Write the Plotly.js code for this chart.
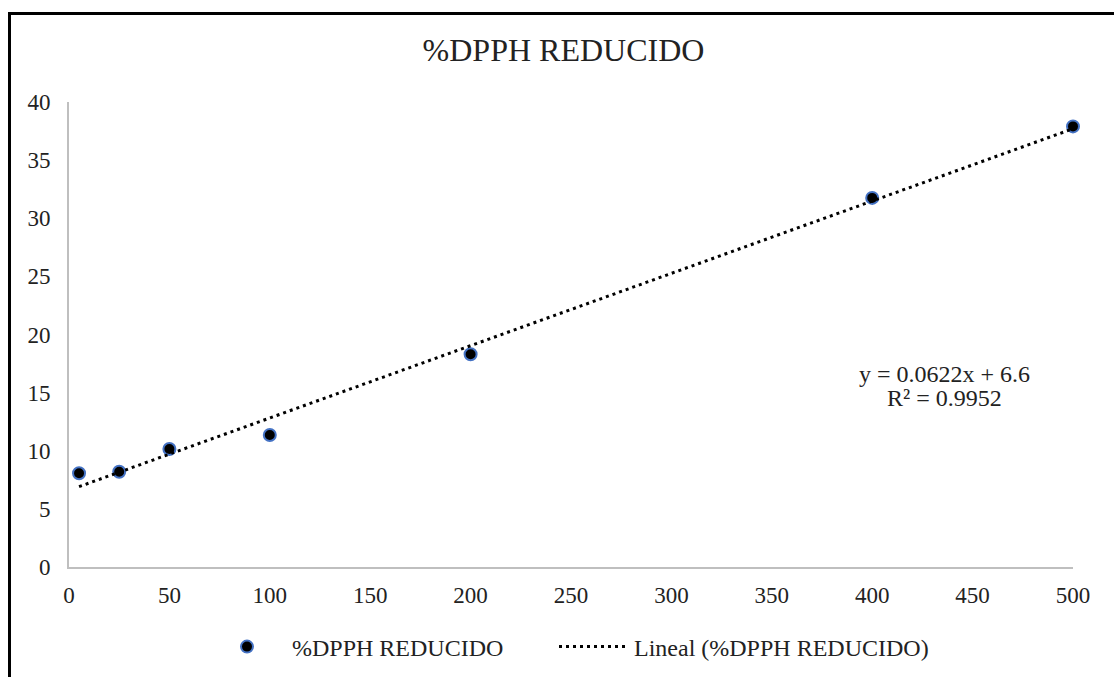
<!DOCTYPE html>
<html>
<head>
<meta charset="utf-8">
<script src="https://cdn.plot.ly/plotly-3.0.1.min.js"></script>
<style>
  html, body { margin: 0; padding: 0; background: #fff; }
  #wrap { position: relative; width: 1114px; height: 677px; overflow: hidden; }
  #chart { position: absolute; left: 0; top: 0; width: 1114px; height: 677px; }
  #frame { position: absolute; left: 8px; top: 12px; width: 1200px; height: 800px;
           border-top: 3px solid #000; border-left: 3px solid #000; pointer-events: none; }
</style>
</head>
<body>
<div id="wrap">
  <div id="chart"></div>
  <div id="frame"></div>
</div>
<script>
// Data
const concentrations = [5, 25, 50, 100, 200, 400, 500];
const dpphReduced   = [8.06, 8.2, 10.15, 11.35, 18.3, 31.75, 37.9];
const seriesName = "%DPPH REDUCIDO";
const trendName  = "Lineal (%DPPH REDUCIDO)";
const trendSlope = 0.0622;
const trendIntercept = 6.6;
const equationText = "y = 0.0622x + 6.6";
const r2Text = "R² = 0.9952";

const xMin = Math.min(...concentrations);
const xMax = Math.max(...concentrations);
const trendX = [xMin, xMax];
const trendY = trendX.map(v => trendSlope * v + trendIntercept);

const serif = "'Liberation Serif', 'Times New Roman', Times, serif";
const txt = "#222222";

const traces = [
  {
    type: "scatter", mode: "markers", name: seriesName, legend: "legend",
    x: concentrations, y: dpphReduced, cliponaxis: false,
    marker: { color: "#000000", size: 12, line: { color: "#4472C4", width: 2 } }
  },
  {
    type: "scatter", mode: "lines", name: trendName, legend: "legend2",
    x: trendX, y: trendY, cliponaxis: false,
    line: { color: "#000000", width: 3, dash: "3px,4px" }
  }
];

const legendFont = { family: serif, size: 24, color: txt };

const layout = {
  width: 1114, height: 677,
  margin: { l: 69, r: 41, t: 102, b: 110 },
  paper_bgcolor: "#ffffff", plot_bgcolor: "#ffffff",
  font: { family: serif, color: txt, size: 23 },
  title: {
    text: "%DPPH REDUCIDO",
    font: { family: serif, size: 32, color: txt },
    xref: "container", yref: "container",
    x: 563.5 / 1114, y: 1 - 50 / 677, xanchor: "center", yanchor: "middle"
  },
  xaxis: {
    range: [0, 500], dtick: 50, tick0: 0,
    showgrid: false, zeroline: false,
    showline: true, linecolor: "#bfbfbf", linewidth: 2,
    ticks: "outside", ticklen: 6, tickcolor: "rgba(0,0,0,0)",
    tickfont: { family: serif, size: 23, color: txt },
    fixedrange: true
  },
  yaxis: {
    range: [0, 40], dtick: 5, tick0: 0,
    showgrid: false, zeroline: false,
    showline: true, linecolor: "#bfbfbf", linewidth: 2,
    ticks: "outside", ticklen: 12, tickcolor: "rgba(0,0,0,0)",
    tickfont: { family: serif, size: 23, color: txt },
    fixedrange: true
  },
  showlegend: true,
  legend: {
    orientation: "h",
    xref: "container", yref: "container",
    x: 202 / 1114, y: 1 - 647 / 677, xanchor: "left", yanchor: "middle",
    font: legendFont, itemwidth: 80,
    bgcolor: "rgba(0,0,0,0)"
  },
  legend2: {
    orientation: "h",
    xref: "container", yref: "container",
    x: 554 / 1114, y: 1 - 647 / 677, xanchor: "left", yanchor: "middle",
    font: legendFont, itemwidth: 70,
    bgcolor: "rgba(0,0,0,0)"
  },
  annotations: [
    { text: equationText, x: 436, y: 16.6, xref: "x", yref: "y",
      showarrow: false, xanchor: "center", yanchor: "middle",
      font: { family: serif, size: 24, color: txt } },
    { text: r2Text, x: 436, y: 14.55, xref: "x", yref: "y",
      showarrow: false, xanchor: "center", yanchor: "middle",
      font: { family: serif, size: 24, color: txt } }
  ],
  hovermode: false
};

Plotly.newPlot("chart", traces, layout, { staticPlot: true, displayModeBar: false });
</script>
</body>
</html>
